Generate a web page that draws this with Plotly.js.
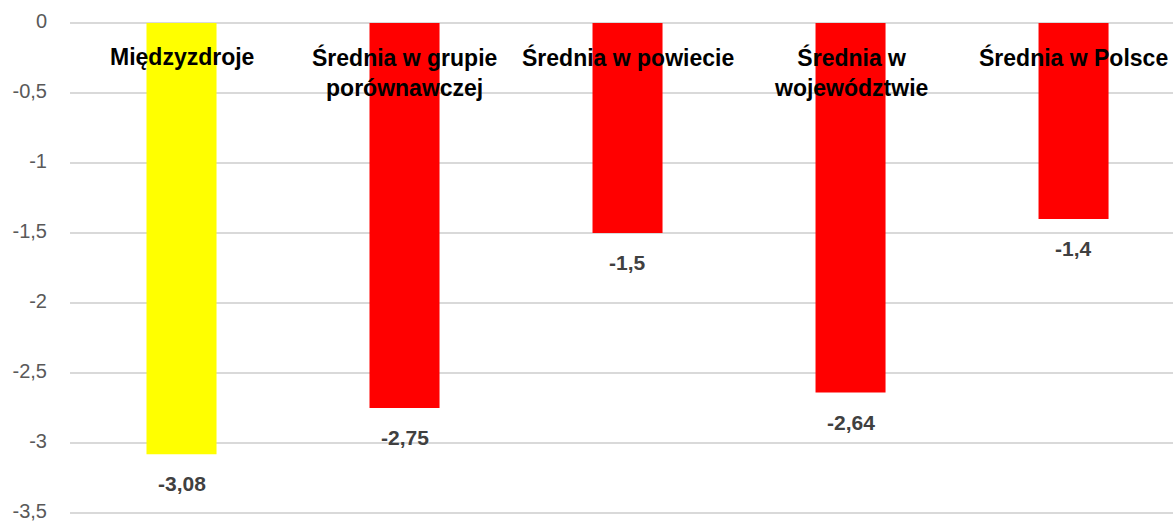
<!DOCTYPE html>
<html>
<head>
<meta charset="utf-8">
<script src="https://cdn.plot.ly/plotly-3.0.1.min.js"></script>
<style>
html,body{margin:0;padding:0;background:#fff;}
#chart{width:1173px;height:522px;}
</style>
</head>
<body>
<div id="chart"></div>
<script>
var categories = ["Międzyzdroje", "Średnia w grupie<br>porównawczej", "Średnia w powiecie", "Średnia w<br>województwie", "Średnia w Polsce"];
var values = [-3.08, -2.75, -1.5, -2.64, -1.4];
var barColors = ["#FFFF00", "#FF0000", "#FF0000", "#FF0000", "#FF0000"];
var tickVals = [0, -0.5, -1, -1.5, -2, -2.5, -3, -3.5];
var tickText = ["0", "-0,5", "-1", "-1,5", "-2", "-2,5", "-3", "-3,5"];

var xs = categories.map(function(_, i){ return i; });

var trace = {
  type: "bar",
  x: xs,
  y: values,
  width: 0.314,
  marker: {color: barColors, line: {width: 0}},
  hoverinfo: "skip"
};

var annotations = [];
categories.forEach(function(c, i){
  annotations.push({
    x: i, y: 0, xref: "x", yref: "y",
    text: c, showarrow: false,
    yanchor: "top", xanchor: "center", yshift: -19,
    font: {family: "Liberation Sans, Arial, sans-serif", size: 23, color: "#000000", weight: "bold"}
  });
  annotations.push({
    x: i, y: values[i], xref: "x", yref: "y",
    text: String(values[i]).replace(".", ","), showarrow: false,
    yanchor: "top", xanchor: "center", yshift: -16,
    font: {family: "Liberation Sans, Arial, sans-serif", size: 21, color: "#404040", weight: "bold"}
  });
});

var layout = {
  width: 1173, height: 522,
  margin: {l: 70, r: 0, t: 21, b: 7, pad: 0},
  paper_bgcolor: "#ffffff",
  plot_bgcolor: "#ffffff",
  showlegend: false,
  xaxis: {
    range: [-0.5, 4.446],
    showticklabels: false, showgrid: false, zeroline: false, showline: false, ticks: ""
  },
  yaxis: {
    range: [-3.5143, 0.0143],
    tickvals: tickVals, ticktext: tickText,
    showgrid: true, gridcolor: "#d9d9d9", gridwidth: 1.5,
    zeroline: false, showline: false, ticks: "",
    ticklabelstandoff: 22,
    ticklabelshift: -2,
    ticklabeloverflow: "allow",
    tickfont: {family: "Liberation Sans, Arial, sans-serif", size: 20, color: "#595959"}
  },
  annotations: annotations
};

Plotly.newPlot("chart", [trace], layout, {displayModeBar: false, staticPlot: true});
</script>
</body>
</html>
